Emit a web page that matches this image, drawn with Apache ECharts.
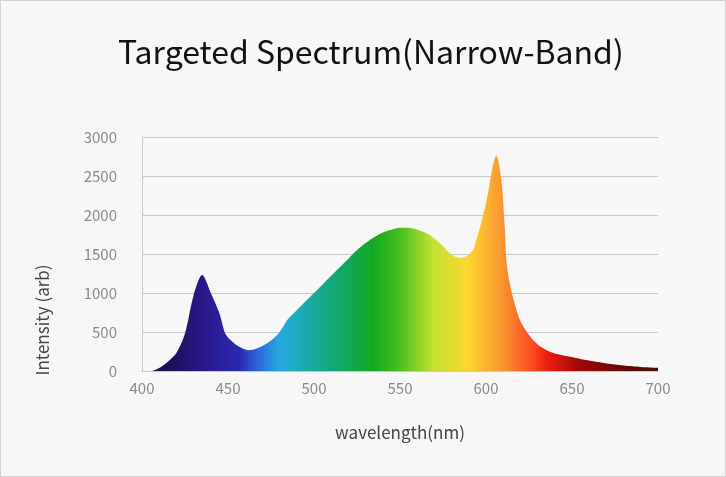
<!DOCTYPE html>
<html>
<head>
<meta charset="utf-8">
<script src="https://cdn.jsdelivr.net/npm/echarts@6/dist/echarts.min.js"></script>
<style>
  html, body { margin: 0; padding: 0; background: #f7f7f7; }
  #main { width: 724px; height: 475px; border: 1px solid #d2d2d2; background: #f7f7f7; }
</style>
</head>
<body>
<div id="main"></div>
<script>
// wavelength (nm) and intensity (arb)
const wavelengths = [400, 405, 410, 415, 420, 425, 430, 435, 440, 445, 448, 450, 455, 460, 462, 465, 470, 475, 480, 485,
  490, 495, 500, 505, 510, 515, 520, 525, 530, 535, 540, 545, 550, 555, 560, 565, 570, 575, 580, 585,
  590, 593, 600, 606, 609, 611, 612, 615, 620, 625, 630, 635, 640, 645, 650, 655, 660, 665, 670, 675,
  680, 685, 690, 695, 700];
const intensity = [0, 0, 40, 120, 230, 480, 970, 1230, 1000, 740, 500, 430, 330, 275, 267, 275, 320, 390, 500, 670,
  780, 890, 1000, 1110, 1220, 1330, 1440, 1550, 1640, 1715, 1775, 1812, 1835, 1835, 1810, 1770, 1700, 1600, 1490, 1450,
  1490, 1580, 2150, 2760, 2440, 1800, 1380, 1000, 640, 460, 340, 270, 225, 200, 180, 155, 135, 115, 97, 83,
  70, 60, 52, 46, 42];
const xTicks = [400, 450, 500, 550, 600, 650, 700];
const yTicks = [0, 500, 1000, 1500, 2000, 2500, 3000];

// colour stops of the spectrum fill, by wavelength
const stopWl = [405, 420, 438, 457, 466, 480, 496, 515, 534, 550, 569, 589, 608, 627, 636, 654, 685, 700];
const stopColor = ['#1a0e3a', '#1f1060', '#2a1a90', '#2a2ab0', '#2f5fd8', '#25aae0', '#1aaaa8', '#12a86c', '#10a820',
  '#48c020', '#c2e030', '#fcd830', '#fa9a30', '#fa4a20', '#ee1c10', '#a00808', '#5a0a08', '#4a1008'];

const font = 'Noto Sans CJK SC';
let chart = echarts.init(document.getElementById('main'));

let stops = stopWl.map(function (w, i) {
  return { offset: (w - 400) / 300, color: stopColor[i] };
});

let option = {
  backgroundColor: '#f7f7f7',
  animation: false,
  title: {
    text: 'Targeted Spectrum(Narrow-Band)',
    left: 112,
    top: 30,
    textStyle: { fontFamily: font, fontSize: 32, fontWeight: 'normal', color: '#111' }
  },
  grid: { left: 141, right: 67, top: 136, bottom: 105 },
  graphic: [{
    type: 'text',
    x: 42, y: 319,
    rotation: Math.PI / 2,
    style: {
      text: 'Intensity (arb)',
      fontFamily: font, fontSize: 17, fill: '#444',
      align: 'center', verticalAlign: 'middle'
    }
  }],
  xAxis: {
    type: 'value',
    min: xTicks[0], max: xTicks[xTicks.length - 1], interval: 50,
    name: 'wavelength(nm)',
    nameLocation: 'middle',
    nameGap: 53,
    nameTextStyle: { fontFamily: font, fontSize: 17, color: '#444' },
    axisLine: { show: true, lineStyle: { color: '#c8c8c8' } },
    axisTick: { show: false },
    splitLine: { show: false },
    axisLabel: { fontFamily: font, fontSize: 15, color: '#8a8a8a', margin: 10 }
  },
  yAxis: {
    type: 'value',
    min: yTicks[0], max: yTicks[yTicks.length - 1], interval: 500,
    axisLine: { show: true, lineStyle: { color: '#c8c8c8' } },
    axisTick: { show: false },
    splitLine: { lineStyle: { color: '#c8c8c8' } },
    axisLabel: {
      fontFamily: font, fontSize: 15, color: '#8a8a8a', margin: 25,
      formatter: function (v) { return String(v); }
    }
  },
  series: [{
    type: 'line',
    data: wavelengths.map(function (w, i) { return [w, intensity[i]]; }),
    smooth: 0.3,
    showSymbol: false,
    lineStyle: { width: 0 },
    areaStyle: {
      opacity: 1,
      color: new echarts.graphic.LinearGradient(0, 0, 1, 0, stops)
    }
  }]
};
chart.setOption(option);
</script>
</body>
</html>
